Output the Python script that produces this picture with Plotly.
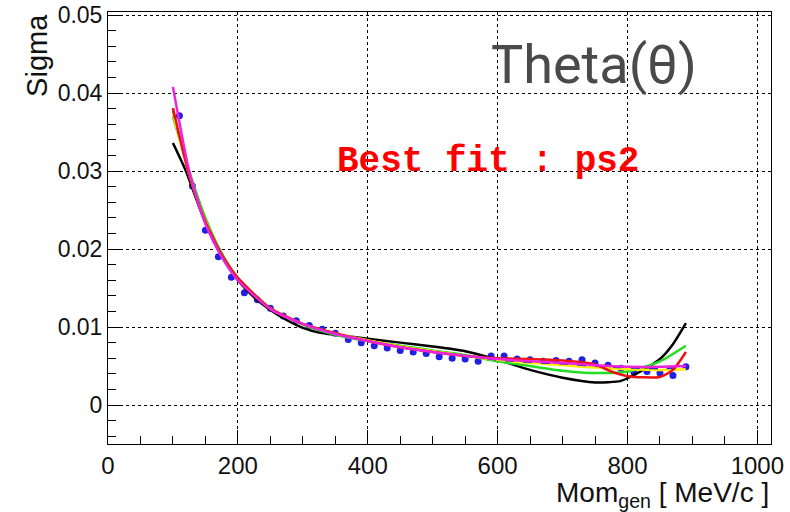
import plotly.graph_objects as go

# ---- data points (Mom_gen [MeV/c], sigma) ----
mom = [110, 130, 150, 170, 190, 210, 230, 250, 270, 290,
       310, 330, 350, 370, 390, 410, 430, 450, 470, 490,
       510, 530, 550, 570, 590, 610, 630, 650, 670, 690,
       710, 730, 750, 770, 790, 810, 830, 850, 870, 890]
sigma = [0.0371, 0.0281, 0.0224, 0.0190, 0.0164, 0.0144, 0.0135, 0.0124, 0.0114, 0.0108,
         0.0102, 0.0097, 0.0092, 0.0084, 0.0080, 0.0076, 0.0073, 0.0070, 0.0068, 0.0066,
         0.0062, 0.0060, 0.0059, 0.0056, 0.0063, 0.0063, 0.0059, 0.0058, 0.0056, 0.0057,
         0.0056, 0.0058, 0.0054, 0.0051, 0.0047, 0.0042, 0.0043, 0.0041, 0.0038, 0.0049]

# ---- fit curves ----
black_x = [100, 120, 140, 160, 180, 200, 225, 250, 275, 300, 325, 350, 400, 450, 500, 550,
           600, 650, 700, 750, 790, 820, 850, 870, 890]
black_y = [0.0336, 0.0300, 0.0255, 0.0215, 0.0185, 0.0160, 0.0138, 0.0122, 0.0109, 0.0099,
           0.0093, 0.0090, 0.0085, 0.0080, 0.0075, 0.0069, 0.0058, 0.0045, 0.0035, 0.0029,
           0.0031, 0.0043, 0.0059, 0.0078, 0.0105]

fit_x = [100, 125, 150, 175, 200, 250, 300, 350, 400, 450, 500, 550, 600, 650, 700,
         750, 800, 850, 890]
green_y = [0.0370, 0.0300, 0.0240, 0.0195, 0.0163, 0.0124, 0.0103, 0.0090, 0.0082, 0.0076,
           0.0070, 0.0064, 0.0056, 0.0050, 0.0044, 0.0041, 0.0043, 0.0056, 0.0076]
yellow_y = [0.0375, 0.0295, 0.0236, 0.0193, 0.0162, 0.0124, 0.0104, 0.0092, 0.0083, 0.0075,
            0.0069, 0.0063, 0.0058, 0.0054, 0.0051, 0.0048, 0.0046, 0.0045, 0.0046]
blue_y = [0.0378, 0.0296, 0.0235, 0.0193, 0.0162, 0.0124, 0.0104, 0.0092, 0.0082, 0.0074,
          0.0068, 0.0063, 0.0058, 0.0055, 0.0053, 0.0050, 0.0048, 0.0047, 0.0048]
magenta_y = [0.0408, 0.0300, 0.0232, 0.0190, 0.0160, 0.0123, 0.0104, 0.0091, 0.0082, 0.0074,
             0.0068, 0.0063, 0.0059, 0.0056, 0.0054, 0.0051, 0.0049, 0.0049, 0.0050]

red_x = [100, 125, 150, 175, 200, 250, 300, 350, 400, 450, 500, 550, 600, 650, 700,
         750, 775, 800, 850, 870, 890]
red_y = [0.0381, 0.0295, 0.0235, 0.0193, 0.0163, 0.0124, 0.0104, 0.0092, 0.0082, 0.0074,
         0.0068, 0.0063, 0.0060, 0.0059, 0.0057, 0.0052, 0.0043, 0.0037, 0.0036, 0.0045,
         0.0068]

x_ticks = [0, 200, 400, 600, 800, 1000]
y_ticks = [0, 0.01, 0.02, 0.03, 0.04, 0.05]
y_ticklabels = ["0", "0.01", "0.02", "0.03", "0.04", "0.05"]

fig = go.Figure()

fig.add_trace(go.Scatter(x=mom, y=sigma, mode="markers",
                         marker=dict(color="#1f1fe6", size=7),
                         showlegend=False))

def add_line(x, y, color, width=2.5, dash="solid"):
    fig.add_trace(go.Scatter(x=x, y=y, mode="lines",
                             line=dict(color=color, width=width, dash=dash, shape="spline",
                                       smoothing=0.6),
                             showlegend=False))

add_line(black_x, black_y, "#000000")
add_line(fit_x, green_y, "#22dd22")
add_line(fit_x, yellow_y, "#ffee00")
add_line(fit_x, blue_y, "#2030c0", width=2, dash="dash")
add_line(red_x, red_y, "#ee1111")
add_line(fit_x, magenta_y, "#ee22dd")

font_axes = "Liberation Sans, Arial, sans-serif"

fig.update_layout(
    width=790, height=512,
    margin=dict(l=108, r=19, t=12, b=68, autoexpand=False),
    paper_bgcolor="white", plot_bgcolor="white",
    showlegend=False,
    xaxis=dict(range=[0, 1021], tickvals=x_ticks, ticktext=[str(v) for v in x_ticks],
               automargin=False,
               ticks="inside", ticklen=14, tickwidth=1, tickcolor="black",
               minor=dict(dtick=50, ticks="inside", ticklen=8, tickcolor="black",
                          showgrid=False),
               showline=True, linecolor="black", linewidth=1, mirror=True,
               showgrid=True, gridcolor="black", griddash="dot", gridwidth=1,
               zeroline=False,
               tickfont=dict(family=font_axes, size=24, color="#111")),
    yaxis=dict(range=[-0.005, 0.0504], tickvals=y_ticks, ticktext=y_ticklabels,
               automargin=False,
               ticks="inside", ticklen=14, tickwidth=1, tickcolor="black",
               minor=dict(dtick=0.002, ticks="inside", ticklen=8, tickcolor="black",
                          showgrid=False),
               showline=True, linecolor="black", linewidth=1, mirror=True,
               showgrid=True, gridcolor="black", griddash="dot", gridwidth=1,
               zeroline=False,
               tickfont=dict(family=font_axes, size=23, color="#111")),
    annotations=[
        dict(text="Theta(θ)", x=748, y=0.0437, xref="x", yref="y",
             showarrow=False, font=dict(family="Roboto", size=54, color="#4a4a4a")),
        dict(text="<b>Best fit : ps2</b>", x=585, y=0.0312, xref="x", yref="y",
             showarrow=False, font=dict(family="Liberation Mono", size=36, color="#ff0000")),
        dict(text="Sigma", x=-0.108, y=1.0, xref="paper", yref="paper",
             xanchor="center", yanchor="top", textangle=-90, showarrow=False,
             font=dict(family=font_axes, size=29, color="#111")),
        dict(text="Mom<sub>gen</sub> [ MeV/c ]", x=1.0, y=-0.071, xref="paper", yref="paper",
             xanchor="right", yanchor="top", showarrow=False,
             font=dict(family=font_axes, size=28, color="#111")),
    ],
)

fig.write_html("out.html",
               config={"displayModeBar": False},
               post_script="document.body.style.margin='0px';"
                           "document.body.style.overflow='hidden';")
